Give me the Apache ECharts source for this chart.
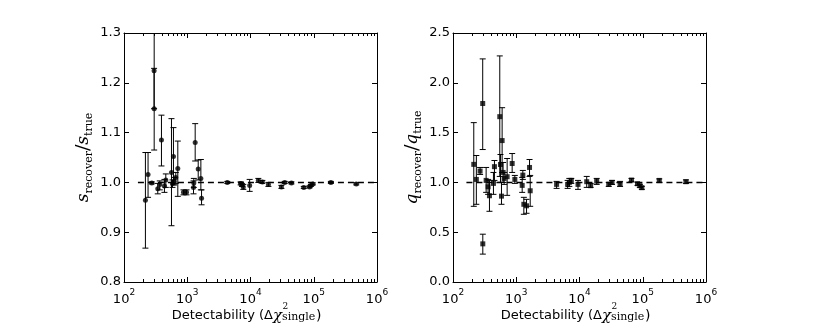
<!DOCTYPE html>
<html>
<head>
<meta charset="utf-8">
<style>
  html, body { margin: 0; padding: 0; background: #fff; }
  #chart { width: 830px; height: 332px; }
</style>
</head>
<body>
<div id="chart"></div>
<script src="https://cdn.jsdelivr.net/npm/echarts@6/dist/echarts.min.js"></script>
<script>
  // left panel: s_recover / s_true
  const sDetect = [218, 240, 275, 299, 300, 342, 368, 391, 436, 458, 563, 584, 605, 620, 659, 709, 872, 973,
    1256, 1271, 1335, 1490, 1642, 1683, 4295, 6984, 7330, 7695, 9700, 13300, 15400, 19200, 30800, 34800,
    44400, 69600, 85700, 90000, 96700, 186600, 470000]
  const sRatio = [0.964, 1.016, 0.999, 1.224, 1.148, 0.987, 0.996, 1.085, 0.993, 1.005, 1.02, 0.998, 1.052, 1.002,
    1.01, 1.028, 0.98, 0.98, 0.99, 0.999, 1.08, 1.027, 1.008, 0.968, 1.0, 0.998, 0.995, 0.991, 0.994, 1.004,
    1.001, 0.996, 0.991, 1.0, 0.999, 0.99, 0.991, 0.994, 0.997, 1.0, 0.997]
  const sLow = [0.868, 0.97, 0.997, 1.148, 1.065, 0.977, 0.985, 1.033, 0.98, 0.99, 0.913, 0.99, 0.995, 0.995,
    0.998, 0.972, 0.975, 0.975, 0.977, 0.99, 1.043, 1.005, 0.985, 0.955, 0.998, 0.995, 0.992, 0.986, 0.982, 1.0,
    0.998, 0.992, 0.988, 0.998, 0.997, 0.988, 0.989, 0.992, 0.995, 0.998, 0.995]
  const sHigh = [1.06, 1.06, 1.001, 1.229, 1.32, 0.998, 1.003, 1.135, 1.006, 1.017, 1.128, 1.005, 1.11, 1.01,
    1.02, 1.083, 0.985, 0.985, 1.003, 1.008, 1.118, 1.045, 1.046, 0.985, 1.002, 1.001, 0.998, 0.996, 1.006, 1.008,
    1.004, 1.0, 0.994, 1.002, 1.001, 0.992, 0.993, 0.996, 0.999, 1.002, 0.999]

  // right panel: q_recover / q_true
  const qDetect = [213, 234, 268, 295, 296, 334, 359, 377, 436, 452, 549, 563, 584, 598, 620, 643, 718, 862, 950,
    1241, 1271, 1318, 1454, 1622, 1662, 4345, 6493, 6902, 7420, 9470, 13000, 15000, 18700, 29000, 32700, 43800,
    66300, 82600, 90000, 96800, 182500, 482000]
  const qRatio = [1.181, 1.03, 1.114, 1.792, 0.383, 1.02, 0.956, 0.866, 0.99, 1.158, 1.66, 1.18, 0.862, 1.42, 1.1,
    1.04, 1.057, 1.19, 1.03, 0.97, 1.073, 0.78, 0.765, 1.15, 0.916, 0.98, 0.98, 1.0, 1.02, 0.98, 1.007, 0.967,
    1.013, 0.98, 1.0, 0.983, 1.023, 0.987, 0.967, 0.947, 1.02, 1.007]
  const qLow = [0.76, 0.78, 1.08, 1.33, 0.28, 0.9, 0.88, 0.71, 0.88, 1.02, 1.06, 1.0, 0.78, 1.1, 1.0, 0.98, 0.87,
    1.1, 0.99, 0.9, 1.03, 0.68, 0.69, 1.06, 0.76, 0.94, 0.94, 0.96, 0.99, 0.93, 0.95, 0.95, 0.98, 0.96, 0.98, 0.96,
    1.01, 0.97, 0.95, 0.93, 1.0, 0.99]
  const qHigh = [1.6, 1.27, 1.15, 2.24, 0.48, 1.15, 1.03, 1.02, 1.1, 1.22, 2.27, 1.28, 1.0, 1.75, 1.2, 1.1, 1.24,
    1.29, 1.07, 1.05, 1.12, 0.85, 0.83, 1.23, 1.07, 1.01, 1.02, 1.04, 1.04, 1.02, 1.06, 0.99, 1.04, 1.0, 1.02, 1.01,
    1.04, 1.0, 0.98, 0.96, 1.035, 1.025]

  const majorTicks = [100, 1000, 10000, 100000, 1000000]
  const minorTicks = [200, 300, 400, 500, 600, 700, 800, 900, 2000, 3000, 4000, 5000, 6000, 7000, 8000, 9000,
    20000, 30000, 40000, 50000, 60000, 70000, 80000, 90000, 200000, 300000, 400000, 500000, 600000, 700000,
    800000, 900000]
  const sTicks = [0.8, 0.9, 1.0, 1.1, 1.2, 1.3]
  const qTicks = [0.0, 0.5, 1.0, 1.5, 2.0, 2.5]
  const sRefLine = [[166, 1], [1000000, 1]]
  const qRefLine = [[163, 1], [1000000, 1]]

  const chart = echarts.init(document.getElementById('chart'))

  const sans = 'DejaVu Sans'
  const serif = 'DejaVu Serif'
  const lg = Math.log10

  // the x axes are value axes in log10 space, data is mapped with lg()
  function xAxes(gridIndex) {
    const base = {
      type: 'value',
      gridIndex: gridIndex,
      min: lg(majorTicks[0]),
      max: lg(majorTicks[majorTicks.length - 1]),
      interval: 1,
      splitLine: { show: false },
    }
    const major = { show: true, inside: true, length: 5, lineStyle: { color: '#000', width: 1 } }
    const minor = { show: true, inside: true, length: 3, customValues: minorTicks.map(lg), lineStyle: { color: '#000', width: 1 } }
    return [
      {
        ...base,
        position: 'bottom',
        axisLine: { lineStyle: { color: '#000', width: 1 } },
        axisTick: major,
        axisLabel: {
          margin: 6,
          formatter: (v) => `{b|10}{sup|${Math.round(v)}}`,
          rich: {
            b: { fontFamily: sans, fontSize: 13, color: '#000', lineHeight: 18, verticalAlign: 'bottom' },
            sup: { fontFamily: sans, fontSize: 9, color: '#000', lineHeight: 9, verticalAlign: 'top' },
          },
        },
      },
      {
        ...base,
        position: 'bottom',
        axisLine: { show: false },
        axisTick: minor,
        axisLabel: { show: false },
      },
      {
        ...base,
        position: 'top',
        axisLine: { lineStyle: { color: '#000', width: 1 } },
        axisTick: major,
        axisLabel: { show: false },
      },
      {
        ...base,
        position: 'top',
        axisLine: { show: false },
        axisTick: minor,
        axisLabel: { show: false },
      },
    ]
  }

  function yAxes(gridIndex, ticks, letter) {
    const base = {
      type: 'value',
      gridIndex: gridIndex,
      min: ticks[0],
      max: ticks[ticks.length - 1],
      interval: ticks[1] - ticks[0],
      splitLine: { show: false },
      axisLine: { show: true, lineStyle: { color: '#000', width: 1 } },
      axisTick: { show: true, inside: true, length: 5, lineStyle: { color: '#000', width: 1 } },
    }
    return [
      {
        ...base,
        position: 'left',
        axisLabel: {
          margin: 3,
          fontFamily: sans,
          fontSize: 13,
          color: '#000',
          formatter: (v) => v.toFixed(1),
        },
        name: `{it|${letter}}{sub|recover}{sl|/}{it|${letter}}{sub|true}`,
        nameLocation: 'middle',
        nameRotate: 90,
        nameGap: 29,
        nameTextStyle: {
          rich: {
            it: { fontFamily: serif, fontStyle: 'italic', fontSize: 17, color: '#000', lineHeight: 22 },
            sl: { fontFamily: serif, fontSize: 19, color: '#000', lineHeight: 22 },
            sub: { fontFamily: serif, fontSize: 11, color: '#000', lineHeight: 11, verticalAlign: 'bottom' },
          },
        },
      },
      {
        ...base,
        position: 'right',
        axisLabel: { show: false },
      },
    ]
  }

  function errorBar(params, api) {
    const x = api.value(0)
    const lo = api.coord([x, api.value(1)])
    const hi = api.coord([x, api.value(2)])
    const cap = 3
    const style = { stroke: '#000', lineWidth: 1 }
    return {
      type: 'group',
      children: [
        { type: 'line', shape: { x1: lo[0], y1: lo[1], x2: hi[0], y2: hi[1] }, style },
        { type: 'line', shape: { x1: lo[0] - cap, y1: lo[1], x2: lo[0] + cap, y2: lo[1] }, style },
        { type: 'line', shape: { x1: hi[0] - cap, y1: hi[1], x2: hi[0] + cap, y2: hi[1] }, style },
      ],
    }
  }

  function panelSeries(xIdx, yIdx, detect, ratio, low, high, refLine, symbol, size) {
    return [
      {
        type: 'line',
        xAxisIndex: xIdx,
        yAxisIndex: yIdx,
        data: refLine.map((p) => [lg(p[0]), p[1]]),
        symbol: 'none',
        lineStyle: { color: '#000', width: 1.5, type: [6, 4] },
        z: 1,
      },
      {
        type: 'custom',
        xAxisIndex: xIdx,
        yAxisIndex: yIdx,
        renderItem: errorBar,
        clip: true,
        encode: { x: 0, y: [1, 2] },
        data: detect.map((d, i) => [lg(d), low[i], high[i]]),
        z: 2,
      },
      {
        type: 'scatter',
        xAxisIndex: xIdx,
        yAxisIndex: yIdx,
        symbol: symbol,
        symbolSize: size,
        itemStyle: { color: '#000' },
        data: detect.map((d, i) => [lg(d), ratio[i]]),
        z: 3,
      },
    ]
  }

  // x-axis title with stacked super/subscript, one per panel
  function xTitle(dx) {
    const y = 316
    return [
      { type: 'text', x: 273 + dx, y: y, style: { text: 'Detectability (Δ', font: `13px "${sans}"`, fill: '#000', align: 'right', verticalAlign: 'middle' } },
      { type: 'text', x: 282 + dx, y: y, style: { text: 'χ', font: `italic 15px "${serif}"`, fill: '#000', align: 'right', verticalAlign: 'middle' } },
      { type: 'text', x: 282.5 + dx, y: 307, style: { text: '2', font: `9px "${serif}"`, fill: '#000', align: 'left', verticalAlign: 'middle' } },
      { type: 'text', x: 282 + dx, y: 317.5, style: { text: 'single', font: `11px "${serif}"`, fill: '#000', align: 'left', verticalAlign: 'middle' } },
      { type: 'text', x: 316 + dx, y: 316.5, style: { text: ')', font: `14px "${sans}"`, fill: '#000', align: 'left', verticalAlign: 'middle' } },
    ]
  }

  chart.setOption({
    animation: false,
    grid: [
      { left: 124, top: 33, width: 253, height: 249 },
      { left: 453, top: 33, width: 253, height: 249 },
    ],
    xAxis: [...xAxes(0), ...xAxes(1)],
    yAxis: [...yAxes(0, sTicks, 's'), ...yAxes(1, qTicks, 'q')],
    graphic: [...xTitle(0), ...xTitle(329)],
    series: [
      ...panelSeries(0, 0, sDetect, sRatio, sLow, sHigh, sRefLine, 'circle', 5),
      ...panelSeries(4, 2, qDetect, qRatio, qLow, qHigh, qRefLine, 'rect', 5),
    ],
  })
</script>
</body>
</html>
